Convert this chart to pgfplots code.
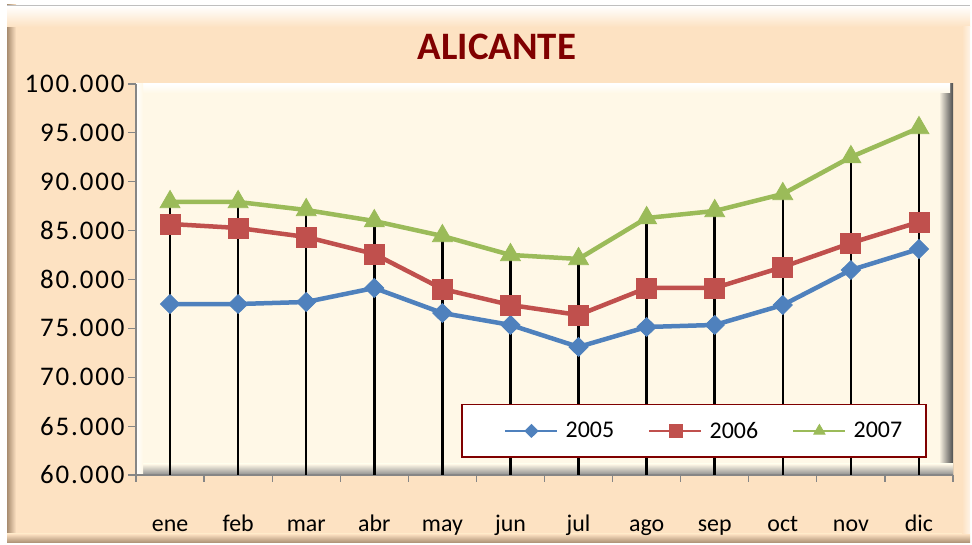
\documentclass[border=0pt]{standalone}
\usepackage{pgfplots}
\pgfplotsset{compat=1.18}
\usepackage{fontspec}
\setmainfont{Carlito}
\newfontfamily\ylabfont[LetterSpace=7]{Carlito}
\definecolor{s1}{HTML}{4F81BD}
\definecolor{s2}{HTML}{C0504D}
\definecolor{s3}{HTML}{9BBB59}
\definecolor{tanbg}{HTML}{FDE2C2}
\definecolor{creambg}{HTML}{FFF8E7}
\definecolor{darkred}{HTML}{800000}
\definecolor{axgray}{HTML}{868686}
\definecolor{framebrown}{HTML}{A88C70}
\begin{document}
\begin{tikzpicture}[x=1bp,y=1bp]
\useasboundingbox (0,0) rectangle (972,545);
\fill[white] (0,0) rectangle (972,545);
\fill[tanbg] (7,2) rectangle (970,540);
\shade[left color=framebrown, right color=tanbg] (7,2) rectangle (16,540);
\shade[bottom color=framebrown, top color=tanbg] (7,2) rectangle (970,11);
\shade[top color=white, bottom color=tanbg] (7,518) rectangle (970,539);
\draw[black!25, line width=0.8bp] (7,540) -- (970,540);
\shade[left color=tanbg, right color=white!60!tanbg] (962,11) rectangle (970,518);
\fill[creambg] (136,70) rectangle (953,461);
\shade[left color=creambg, right color=black!70] (939,70) rectangle (953,461);
\shade[top color=creambg, bottom color=black!45] (136,70) rectangle (953,81);
\shade[top color=white, bottom color=creambg] (136,452) rectangle (950,461);
\shade[left color=white, right color=creambg] (136,70) rectangle (143,461);
\node[font=\bfseries\fontsize{39}{42}\selectfont, text=darkred] at (497,498) {ALICANTE};
\begin{axis}[at={(136bp,70bp)}, anchor=south west, scale only axis,
  width=817bp, height=391bp,
  xmin=0.5, xmax=12.5, ymin=60000, ymax=100000,
  ytick={60000,65000,...,100000},
  scaled y ticks=false,
  /pgf/number format/assume math mode=true,
  xtick={1,...,12},
  xticklabels={ene,feb,mar,abr,may,jun,jul,ago,sep,oct,nov,dic},
  minor xtick={0.5,1.5,...,12.5},
  axis x line*=bottom, axis y line*=left,
  axis line style={axgray, line width=1.5bp},
  tick align=outside,
  major tick length=8bp, minor tick length=7bp,
  major x tick style={draw=none},
  minor x tick style={draw=axgray, line width=1.2bp},
  y tick style={draw=axgray, line width=1.2bp},
  xticklabel style={font=\fontsize{24}{28}\selectfont, anchor=base, yshift=-49bp},
  yticklabel style={font=\ylabfont\fontsize{27}{30}\selectfont,
    /pgf/number format/fixed, /pgf/number format/precision=0,
    /pgf/number format/1000 sep={.}},
  legend columns=3,
  legend style={at={(0.968,0.0435)}, anchor=south east, draw=darkred,
    line width=1.5bp, fill=white, font=\fontsize{24}{28}\selectfont,
    inner xsep=22bp, inner ysep=15.5bp,
    /tikz/every even column/.append style={column sep=12bp}},
  legend image code/.code={\path (-19bp,0bp) (56bp,0bp); \draw[#1, line width=1.3bp, mark size=6.5bp, mark repeat=2, mark phase=2]
     plot coordinates {(0bp,0bp) (26bp,0bp) (52bp,0bp)};},
]
\addplot[s1, line width=4.5bp, mark=diamond*, mark size=9.5bp,
  mark options={xscale=1.35, solid, line width=0.8bp}] coordinates {
(1,77490) (2,77490) (3,77700) (4,79130) (5,76570) (6,75350)
(7,73100) (8,75140) (9,75350) (10,77390) (11,80970) (12,83120)};
\addlegendentry{2005}
\addplot[s2, line width=4.5bp, mark=square*, mark size=10bp,
  mark options={solid, line width=0.8bp}] coordinates {
(1,85680) (2,85270) (3,84350) (4,82610) (5,79030) (6,77390)
(7,76370) (8,79130) (9,79130) (10,81280) (11,83730) (12,85880)};
\addlegendentry{2006}
\addplot[s3, line width=4.5bp, mark=triangle*, mark size=11.5bp,
  mark options={solid, line width=0.8bp}] coordinates {
(1,87930) (2,87930) (3,87110) (4,85980) (5,84450) (6,82510)
(7,82100) (8,86290) (9,87010) (10,88750) (11,92530) (12,95500)};
\addlegendentry{2007}
\addplot[black, line width=2.5bp, ycomb, forget plot, mark=none] coordinates {
(1,87930) (2,87930) (3,87110) (4,85980) (5,84450) (6,82510)
(7,82100) (8,86290) (9,87010) (10,88750) (11,92530) (12,95500)};
\end{axis}
\end{tikzpicture}
\end{document}
